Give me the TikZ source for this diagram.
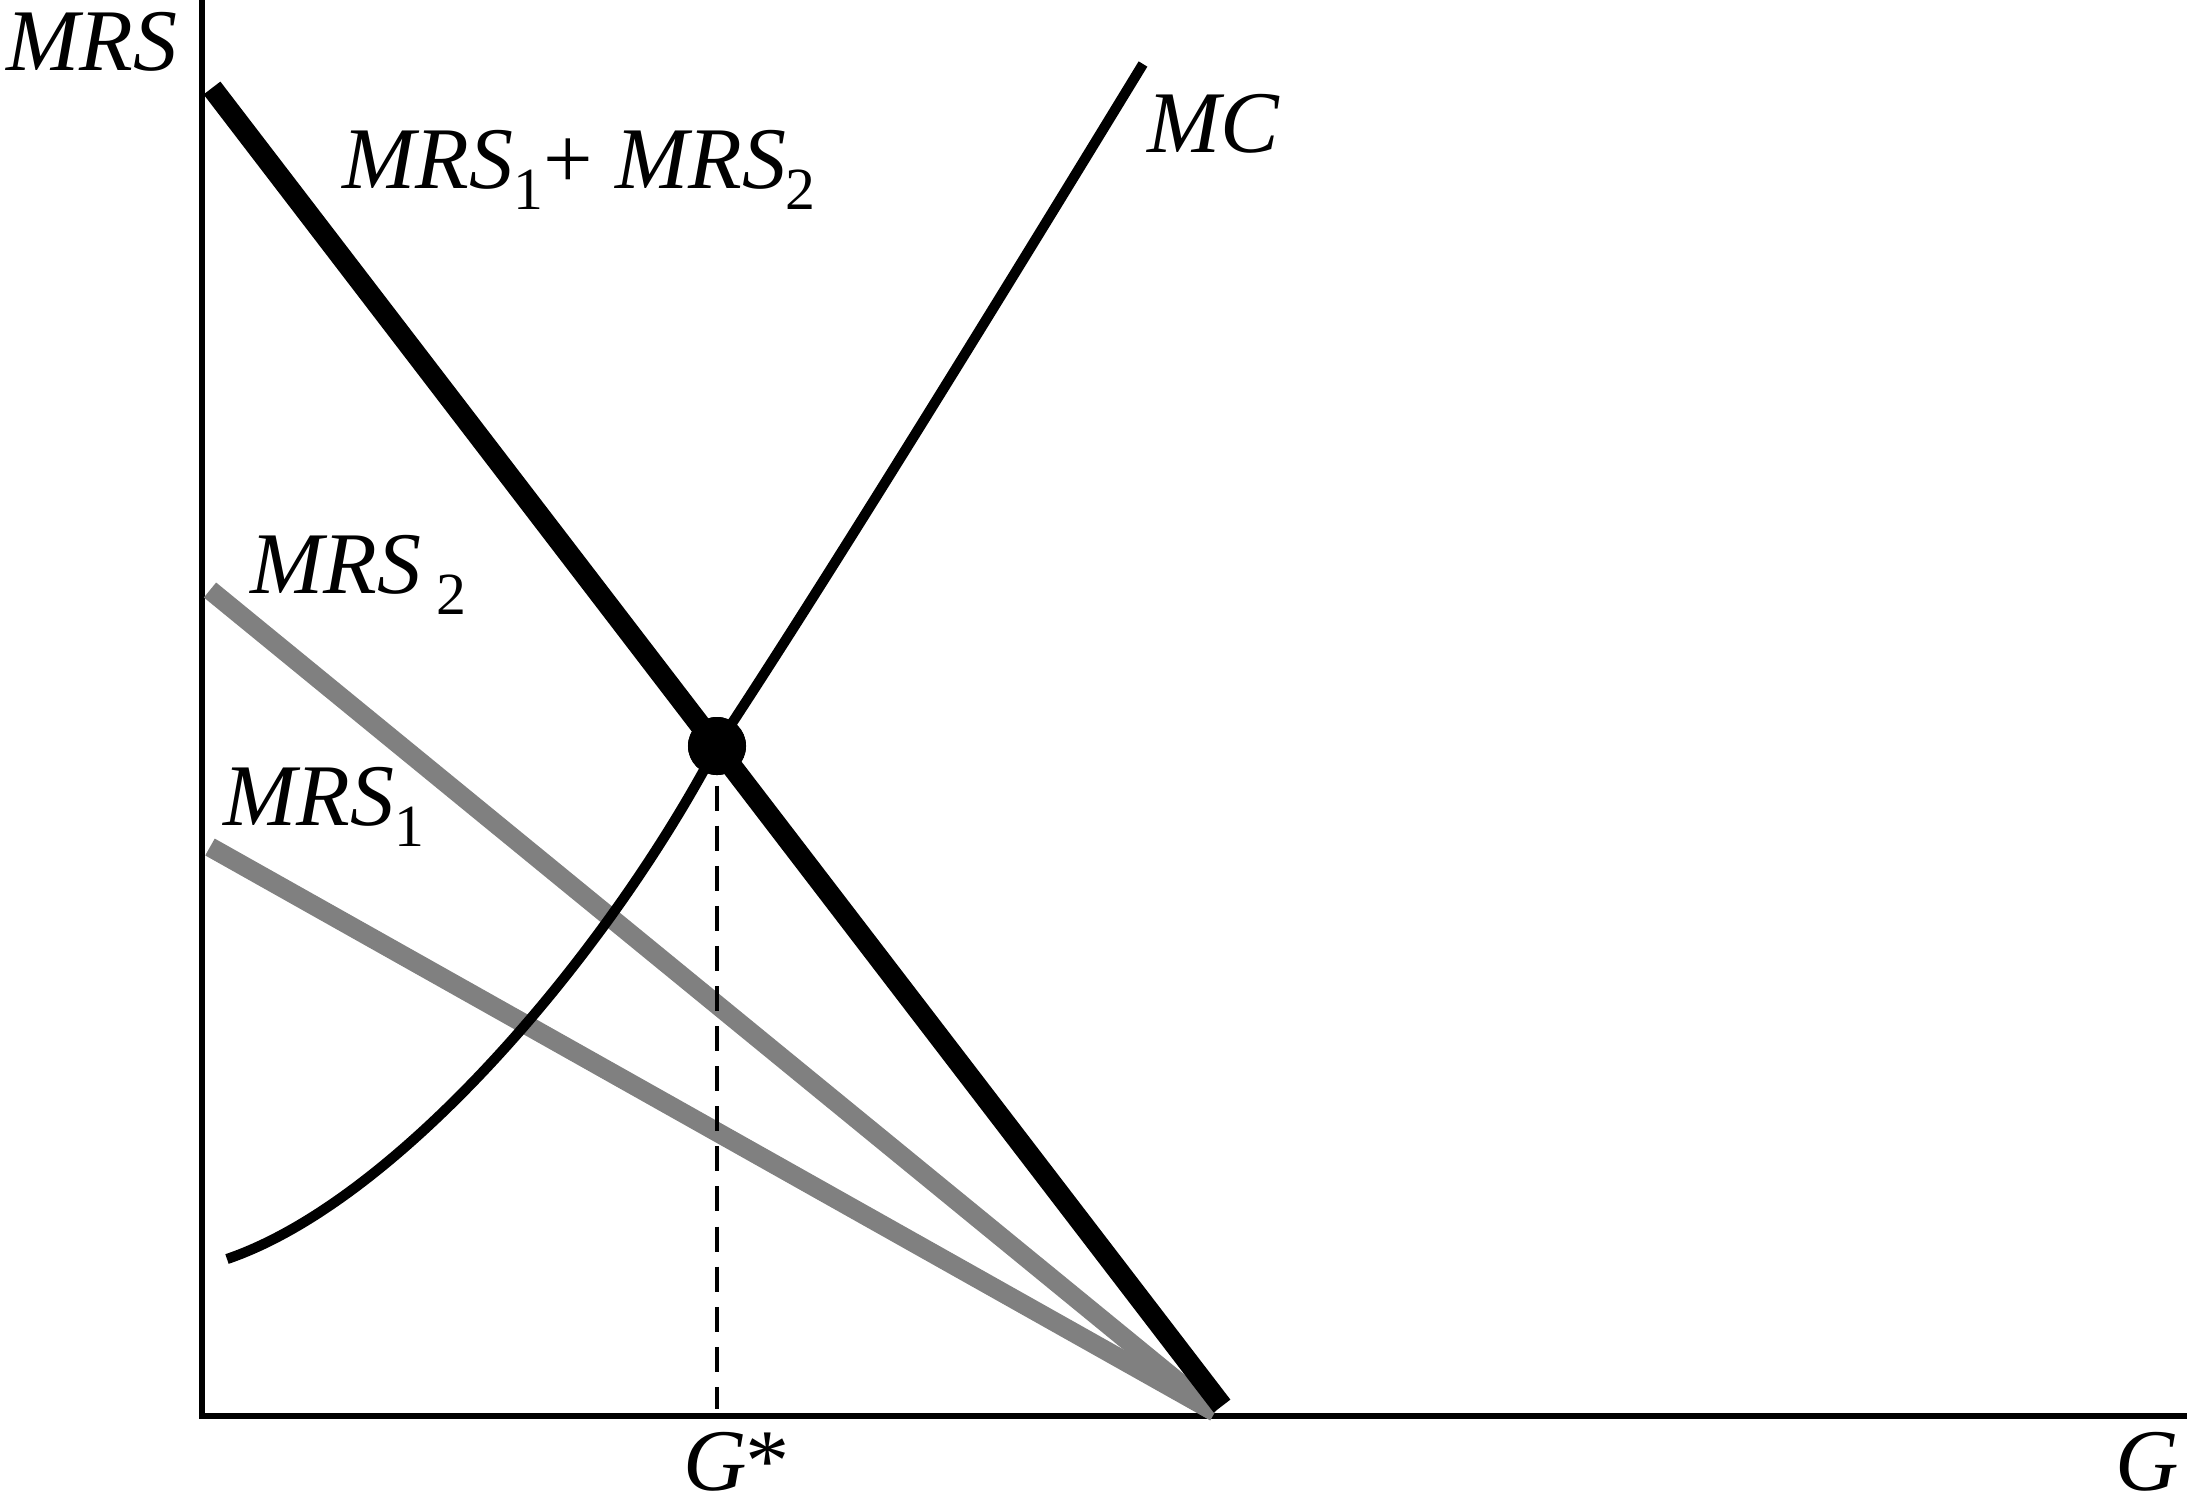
\documentclass[tikz,border=0pt]{standalone}
\usepackage{fontspec}
\setmainfont{Liberation Serif}
\usetikzlibrary{calc}

\newcommand{\lowsub}[1]{\raisebox{-6pt}{\fontsize{17}{17}\selectfont\upshape #1}}

\begin{document}
\begin{tikzpicture}[x=0.01cm,y=-0.01cm]
		\tikzset{dot/.style={circle,fill,inner sep=0pt,minimum size=0.58cm}};
		\tikzset{lbl/.style={inner sep=0pt,anchor=base west,font=\fontsize{25}{25}\selectfont\itshape}};
		\tikzset{axis/.style={line width=1.85pt,line join=miter}};
		\tikzset{share/.style={line width=5.5pt,color=black!50}};
		\tikzset{total/.style={line width=6pt}};
		\tikzset{cost/.style={line width=2.9pt}};
		
		\useasboundingbox (0,0) rectangle (2187,1505);
		
		\coordinate (O) at (202,1416);
		\coordinate (ytop) at (202,0);
		\coordinate (xend) at (2187,1416);
		\coordinate (s2) at (210,590);
		\coordinate (s1) at (210,847);
		\coordinate (meet) at (1215,1412);
		\coordinate (sumtop) at (212,88);
		\coordinate (sumend) at (1222,1406);
		\coordinate (mclow) at (227,1259);
		\coordinate (mchigh) at (1143,64);
		
		\node (eq) at (717,746) [dot]{};
		
		\draw [axis] (ytop)--(O)--(xend);
		\draw [share] (s2)--(meet);
		\draw [share] (s1)--(meet);
		\draw [cost] (mclow) .. controls (400,1200) and (610,950) .. (eq.center) .. controls (840,560) and (1060,200) .. (mchigh);
		\draw [total] (sumtop)--(sumend);
		\node at (eq) [dot]{};
		\draw [dashed,line width=1.4pt,dash pattern=on 7.1pt off 4.3pt,shorten <=2.8pt,shorten >=2pt] (eq.south)--(eq.south |- O);
		
		\node (ylab) at (6,70) [lbl]{MRS};
		\node (sumlab) at (342,188) [lbl]{MRS\lowsub{1}{\upshape+} MRS\lowsub{2}};
		\node (mclab) at (1147,152) [lbl]{MC};
		\node (m2lab) at (250,593) [lbl]{MRS\,\lowsub{2}};
		\node (m1lab) at (223,825) [lbl]{MRS\lowsub{1}};
		\node (gstar) at (683,1490) [lbl,text depth=0pt]{G\kern-1.5pt*};
		\node (xlab) at (2115,1490) [lbl,text depth=0pt]{G};
\end{tikzpicture}
\end{document}
